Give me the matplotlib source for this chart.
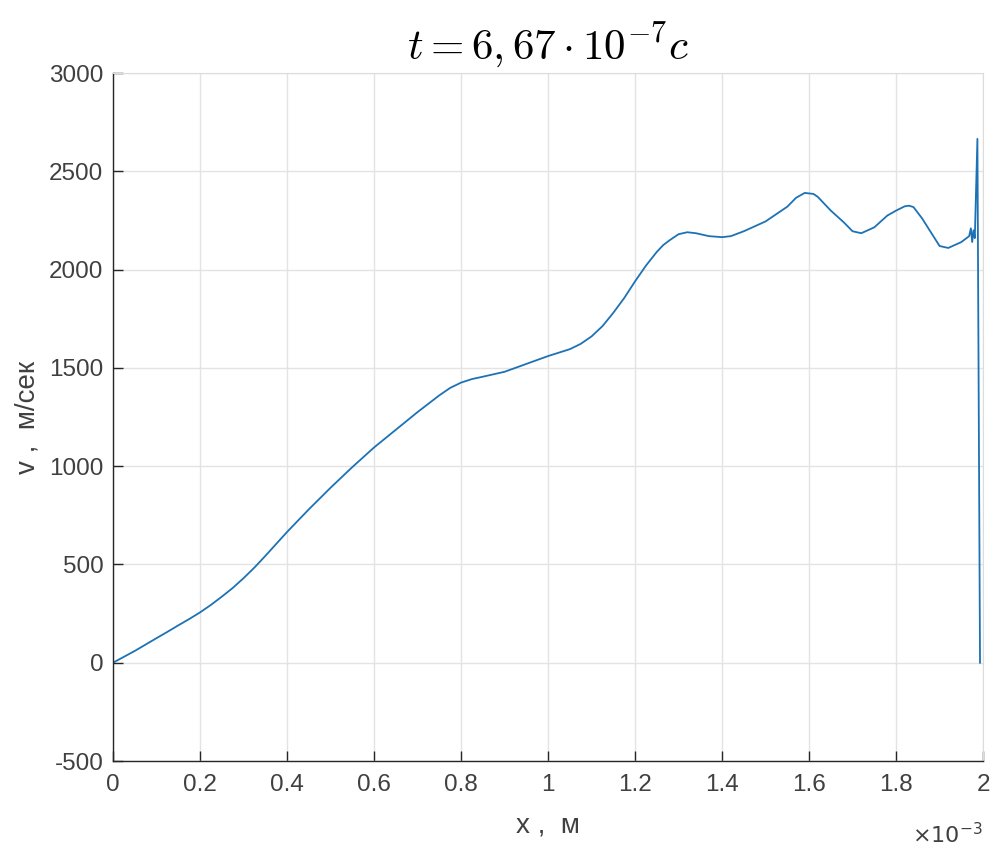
import numpy as np
import matplotlib
matplotlib.use("Agg")
import matplotlib.pyplot as plt
from matplotlib.ticker import FuncFormatter

plt.rcParams['font.family'] = ['Liberation Sans', 'DejaVu Sans']
plt.rcParams['mathtext.fontset'] = 'cm'
plt.rcParams['axes.unicode_minus'] = False

# data: x in units of 1e-3 m, v in m/s
x_mm = [0, 0.05, 0.1, 0.125, 0.15, 0.175, 0.2, 0.225, 0.25, 0.275, 0.3, 0.325, 0.35,
        0.375, 0.4, 0.45, 0.5, 0.55, 0.6, 0.65, 0.7, 0.75, 0.775, 0.8, 0.825, 0.85,
        0.9, 0.95, 1.0, 1.05, 1.075, 1.1, 1.125, 1.15, 1.175, 1.2, 1.225, 1.25, 1.265,
        1.28, 1.3, 1.32, 1.34, 1.37, 1.4, 1.42, 1.45, 1.5, 1.55, 1.57, 1.59, 1.61,
        1.62, 1.65, 1.68, 1.7, 1.72, 1.75, 1.78, 1.8, 1.82, 1.83, 1.84, 1.86, 1.88,
        1.9, 1.92, 1.95, 1.968, 1.972, 1.975, 1.978, 1.981, 1.987, 1.993]
v = [0, 60, 125, 157, 190, 222, 256, 294, 336, 380, 430, 484, 543,
     604, 665, 780, 890, 995, 1095, 1185, 1275, 1360, 1398, 1425, 1443, 1455,
     1480, 1520, 1560, 1595, 1622, 1660, 1712, 1780, 1855, 1940, 2020, 2090, 2125,
     2150, 2180, 2190, 2185, 2170, 2165, 2170, 2195, 2245, 2320, 2365, 2390, 2385,
     2370, 2300, 2240, 2195, 2185, 2215, 2275, 2300, 2322, 2325, 2318, 2260, 2190,
     2120, 2110, 2140, 2170, 2210, 2140, 2200, 2160, 2665, 0]

x_ticks_mm = [0, 0.2, 0.4, 0.6, 0.8, 1.0, 1.2, 1.4, 1.6, 1.8, 2.0]
y_ticks = [-500, 0, 500, 1000, 1500, 2000, 2500, 3000]

SCALE = 1e-3
x = np.array(x_mm) * SCALE

fig = plt.figure(figsize=(9.94, 8.5), dpi=100)
ax = fig.add_axes([0.1137, 0.1047, 0.8753, 0.8094])

ax.plot(x, v, color='#1c72b5', lw=1.3)

ax.set_xlim(0, 2e-3)
ax.set_ylim(-500, 3000)
ax.set_xticks(np.array(x_ticks_mm) * SCALE)
ax.set_yticks(y_ticks)
ax.xaxis.set_major_formatter(FuncFormatter(lambda val, pos: '%g' % round(val / SCALE, 6)))
ax.yaxis.set_major_formatter(FuncFormatter(lambda val, pos: '%d' % val))

ax.grid(True, color='#e3e3e3', lw=1.0)
ax.set_axisbelow(True)
for s in ['top', 'right']:
    ax.spines[s].set_color('#dcdcdc')
for s in ['left', 'bottom']:
    ax.spines[s].set_color('#262626')
    ax.spines[s].set_linewidth(1.0)

ax.tick_params(direction='in', length=7, width=1, colors='#262626',
               labelsize=17.5, labelcolor='#404040', pad=7)
ax.tick_params(axis='x', pad=9)

ax.set_xlabel('x ,  м', fontsize=20, color='#404040', labelpad=12)
ax.set_ylabel('v ,  м/сек', fontsize=20, color='#404040', labelpad=6)
ax.set_title(r'$t = 6,67 \cdot 10^{-7} c$', fontsize=31, pad=10)

ax.text(1.0, -0.09, r'$\times 10^{-3}$', transform=ax.transAxes, ha='right', va='top',
        fontsize=16, color='#404040',
        math_fontfamily='dejavusans')

fig.savefig('out.png', dpi=100, facecolor='white')
